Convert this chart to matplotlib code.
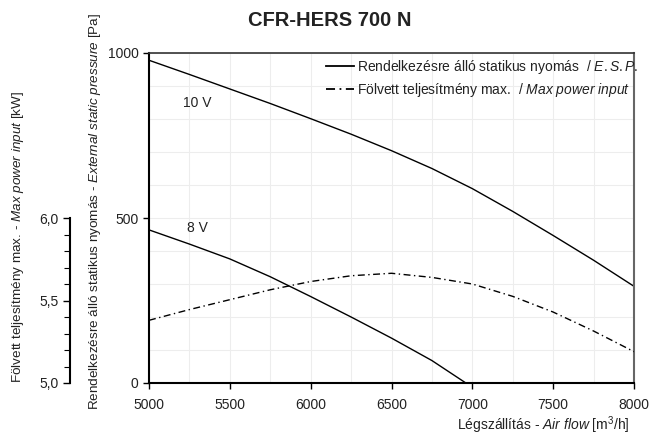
import matplotlib
matplotlib.use("Agg")
import matplotlib.pyplot as plt
from matplotlib.ticker import MultipleLocator, FixedLocator, FuncFormatter
from matplotlib.lines import Line2D

plt.rcParams['font.family'] = ['Liberation Sans', 'DejaVu Sans']
plt.rcParams['mathtext.fontset'] = 'custom'
plt.rcParams['mathtext.rm'] = 'Liberation Sans'
plt.rcParams['mathtext.it'] = 'Liberation Sans:italic'

# air flow [m3/h] / external static pressure [Pa]
flow_10v = [5000, 5250, 5500, 5750, 6000, 6250, 6500, 6750, 7000, 7250, 7500, 7750, 8000]
esp_10v = [978, 935, 891, 847, 801, 754, 704, 650, 589, 520, 447, 372, 293]

flow_8v = [5000, 5250, 5500, 5750, 6000, 6250, 6500, 6750, 6960]
esp_8v = [464, 421, 376, 322, 262, 200, 136, 68, 0]

# max power input [kW]
flow_pw = [5000, 5250, 5500, 5750, 6000, 6250, 6500, 6750, 7000, 7250, 7500, 7750, 8000]
power_kw = [5.38, 5.445, 5.505, 5.565, 5.615, 5.65, 5.665, 5.64, 5.60, 5.525, 5.43, 5.315, 5.19]

x_ticks = [5000, 5500, 6000, 6500, 7000, 7500, 8000]
y_ticks = [0, 500, 1000]
kw_ticks = [5.0, 5.5, 6.0]
kw_minor = [5.1, 5.2, 5.3, 5.4, 5.6, 5.7, 5.8, 5.9]

dashdot = (0, (5, 2.5, 1, 2.5))
txt = '#222222'


def main():
    fig = plt.figure(figsize=(6.51, 4.38), dpi=100)
    ax = fig.add_axes([149 / 651, 1 - 383 / 438, 485 / 651, 330 / 438])

    ax.plot(flow_10v, esp_10v, color='black', lw=1.0)
    ax.plot(flow_8v, esp_8v, color='black', lw=1.0)

    ax.set_xlim(5000, 8000)
    ax.set_ylim(0, 1000)
    ax.set_xticks(x_ticks)
    ax.set_yticks(y_ticks)
    ax.xaxis.set_minor_locator(MultipleLocator(250))
    ax.yaxis.set_minor_locator(MultipleLocator(100))
    ax.grid(which='both', color='#ededed', lw=0.8)
    ax.set_axisbelow(True)
    ax.tick_params(which='minor', length=0)
    ax.tick_params(which='major', length=4, width=1, labelsize=10, labelcolor=txt)
    ax.tick_params(axis='x', pad=7)
    for s in ['left', 'bottom']:
        ax.spines[s].set_linewidth(1.5)
        ax.spines[s].set_color('black')
    ax.spines['top'].set_color('#333333')
    ax.spines['top'].set_linewidth(1.2)
    ax.spines['right'].set_color('#666666')
    ax.spines['right'].set_linewidth(1.5)

    ax.text(5300, 849, '10 V', fontsize=10, color=txt, ha='center', va='center')
    ax.text(5300, 471, '8 V', fontsize=10, color=txt, ha='center', va='center')

    # secondary axis for power input, drawn at the far left
    ax2 = ax.twinx()
    ax2.plot(flow_pw, power_kw, color='black', lw=1.0, linestyle=dashdot)
    ax2.set_xlim(5000, 8000)
    ax2.set_ylim(5.0, 7.0)
    ax2.yaxis.tick_left()
    for s in ['right', 'top', 'bottom']:
        ax2.spines[s].set_visible(False)
    ax2.spines['left'].set_visible(True)
    ax2.spines['left'].set_position(('outward', 79 * 0.72))
    ax2.spines['left'].set_bounds(5.0, 6.0)
    ax2.spines['left'].set_linewidth(1.5)
    ax2.set_yticks(kw_ticks)
    ax2.yaxis.set_minor_locator(FixedLocator(kw_minor))
    ax2.yaxis.set_major_formatter(FuncFormatter(lambda v, p: f'{v:.1f}'.replace('.', ',')))
    ax2.tick_params(which='major', length=5, width=1, labelsize=10, labelcolor=txt)
    ax2.tick_params(which='minor', length=4, width=0.8)

    handles = [Line2D([], [], color='black', lw=1.3),
               Line2D([], [], color='black', lw=1.3, linestyle=dashdot)]
    labels = [r'Rendelkezésre álló statikus nyomás  / $\mathit{E{.}S{.}P{.}}$',
              r'Fölvett teljesítmény max.  / $\mathit{Max\ power\ input}$']
    ax.legend(handles, labels, loc='upper left', bbox_to_anchor=(0.365, 0.985),
              frameon=False, fontsize=10, borderpad=0, borderaxespad=0,
              handlelength=2.0, handletextpad=0.2, labelspacing=0.35,
              labelcolor=txt)

    fig.text(330 / 651, 1 - 20 / 438, 'CFR-HERS 700 N', fontsize=14.5,
             fontweight='bold', color='#222222', ha='center', va='center')
    fig.text(95 / 651, 1 - 410 / 438,
             r'Rendelkezésre álló statikus nyomás - $\mathit{External\ static\ pressure}$ [Pa]',
             rotation=90, ha='center', va='bottom', fontsize=9.7, color=txt)
    fig.text(18 / 651, 1 - 383 / 438,
             r'Fölvett teljesítmény max. - $\mathit{Max\ power\ input}$ [kW]',
             rotation=90, ha='center', va='bottom', fontsize=9.7, color=txt)
    fig.text(630 / 651, 1 - 425 / 438,
             r'Légszállítás - $\mathit{Air\ flow}$ [m$^3$/h]',
             ha='right', va='center', fontsize=10, color=txt)

    fig.savefig('out.png', dpi=100)


if __name__ == "__main__":
    main()
